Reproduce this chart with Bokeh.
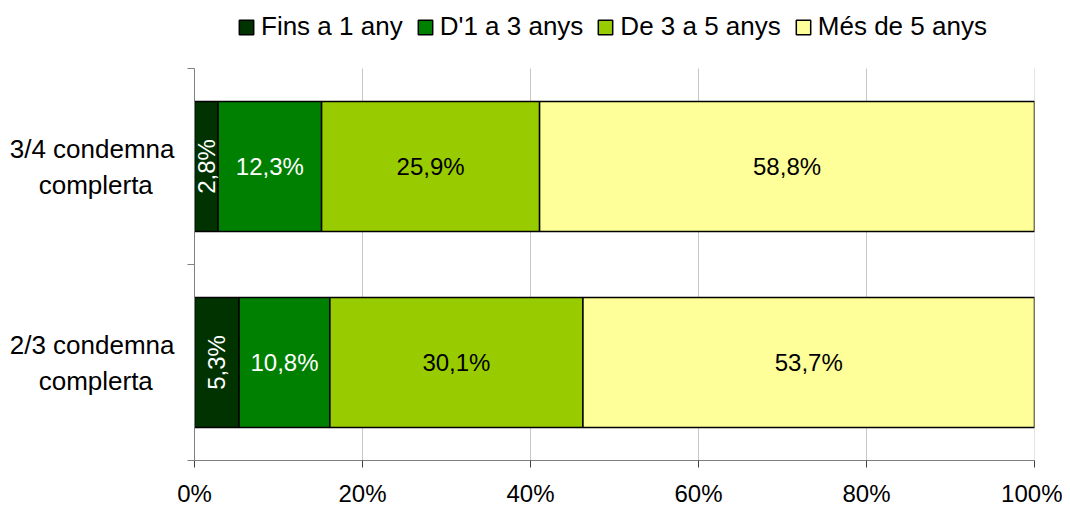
import math
from bokeh.plotting import figure
from bokeh.models import (ColumnDataSource, Range1d, FixedTicker, NumeralTickFormatter,
                          Legend, LegendItem)
from bokeh.core.properties import value
from bokeh.embed import file_html
from bokeh.resources import INLINE

# ---- data ----
categories = ["3/4 condemna\ncomplerta", "2/3 condemna\ncomplerta"]
series = ["Fins a 1 any", "D'1 a 3 anys", "De 3 a 5 anys", "Més de 5 anys"]
fins_1 = [2.8, 5.3]
d1_3 = [12.3, 10.8]
d3_5 = [25.9, 30.1]
mes_5 = [58.8, 53.7]
colors = ["#003300", "#008000", "#99CC00", "#FFFF99"]
label_colors = ["white", "white", "black", "black"]
x_ticks = [0, 0.2, 0.4, 0.6, 0.8, 1.0]

FONT = "Liberation Sans"

values = [fins_1, d1_3, d3_5, mes_5]
n = len(categories)
ypos = [n - 0.5 - i for i in range(n)]  # first category on top
totals = [sum(v[i] for v in values) for i in range(n)]

keys = ["s0", "s1", "s2", "s3"]
data = {"y": ypos}
for k, v in zip(keys, values):
    data[k] = [v[i] / totals[i] for i in range(n)]
src = ColumnDataSource(data)

# the frame reaches the top of the canvas; the space above the bars holds the legend
TOP_PAD = 68 / 196 * 1.0  # headroom (in category units) above the plotted area
p = figure(width=1062, height=509, x_range=Range1d(0, 1), y_range=Range1d(0, n + TOP_PAD),
           output_backend="svg", toolbar_location=None,
           min_border_left=194, min_border_right=28, min_border_top=0, min_border_bottom=49)
p.outline_line_color = None
p.background_fill_color = "white"
p.border_fill_color = "white"

# vertical grid lines limited to the plotted area
p.xgrid.visible = False
p.ygrid.visible = False
gx = x_ticks[1:]
p.segment(x0=gx, x1=gx, y0=[0] * len(gx), y1=[n] * len(gx), line_color="#c8c8c8",
          line_width=1)

renderers = p.hbar_stack(keys, y="y", height=0.663, color=colors, line_color="black",
                         line_width=1.5, source=src)

# data labels
lx, ly, lt, la, lc = [], [], [], [], []
for i in range(n):
    left = 0.0
    for j, v in enumerate(values):
        frac = v[i] / totals[i]
        lx.append(left + frac / 2)
        ly.append(ypos[i])
        lt.append(f"{v[i]:.1f}%".replace(".", ","))
        la.append(math.pi / 2 if j == 0 else 0.0)
        lc.append(label_colors[j])
        left += frac
lsrc = ColumnDataSource(dict(x=lx, y=ly, t=lt, a=la, c=lc))
p.text(x="x", y="y", text="t", angle="a", text_color="c", source=lsrc,
       text_font=value(FONT), text_font_size="24px", text_align="center",
       text_baseline="middle")

# x axis
xa = p.xaxis[0]
xa.ticker = FixedTicker(ticks=x_ticks)
xa.formatter = NumeralTickFormatter(format="0%")
xa.axis_line_color = "#808080"
xa.major_tick_line_color = "#404040"
xa.major_tick_out = 7
xa.major_tick_in = 0
xa.minor_tick_line_color = None
xa.major_label_text_font = FONT
xa.major_label_text_font_size = "24px"
xa.major_label_text_color = "black"
xa.major_label_standoff = 12

# y axis: labels at category centres, tick marks at category boundaries
def centred(label):
    # pad the shorter second line so the right-aligned lines look centred
    first, second = label.split("\n")
    return first + "\n" + second + "\u00a0" * 3

bounds = [float(i) for i in range(n + 1)]
ya = p.yaxis[0]
ya.ticker = FixedTicker(ticks=ypos, minor_ticks=bounds)
ya.bounds = (0, n)
ya.major_label_overrides = {y: centred(c) for y, c in zip(ypos, categories)}
ya.axis_line_color = "#808080"
ya.major_tick_line_color = None
ya.major_tick_out = 0
ya.major_tick_in = 0
ya.minor_tick_line_color = "#808080"
ya.minor_tick_out = 7
ya.minor_tick_in = 0
ya.major_label_text_font = FONT
ya.major_label_text_font_size = "26px"
ya.major_label_text_color = "black"
ya.major_label_text_line_height = 1.2
ya.major_label_standoff = 13

legend = Legend(items=[LegendItem(label=s, renderers=[r]) for s, r in zip(series, renderers)],
                orientation="horizontal", location=(43, 418),
                glyph_width=18, glyph_height=18, label_standoff=6, spacing=13,
                label_text_font=FONT, label_text_font_size="26px",
                label_text_color="black",
                border_line_color=None, background_fill_alpha=0,
                margin=0, padding=4)
p.add_layout(legend, "center")

open("out.html", "w").write(file_html(p, INLINE))
